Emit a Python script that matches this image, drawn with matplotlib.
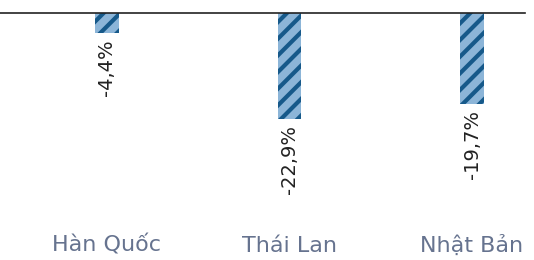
import numpy as np
import matplotlib
matplotlib.use("Agg")
import matplotlib.pyplot as plt

categories = ["Hàn Quốc", "Thái Lan", "Nhật Bản"]
values = [-4.4, -22.9, -19.7]
labels = ["-4,4%", "-22,9%", "-19,7%"]

plt.rcParams['font.family'] = ['DejaVu Sans']
plt.rcParams['hatch.linewidth'] = 3.0
plt.rcParams['hatch.color'] = '#16598a'

fig = plt.figure(figsize=(5.34, 2.6), dpi=100)
ax = fig.add_axes([0, 40 / 260, 525 / 534, 207 / 260])

x = np.arange(len(categories))
ax.bar(x, values, width=0.127, color='#8cb5d8', edgecolor='#16598a',
       linewidth=0, hatch='//')

ax.axhline(0, color='#222222', linewidth=1.2, clip_on=False)

for xi, v, lab in zip(x, values, labels):
    ax.annotate(lab, (xi, v), xytext=(0, -4), textcoords='offset points',
                rotation=90, ha='center', va='top', fontsize=14,
                color='#222222')

ax.set_xlim(-0.586, 2.29)
ax.set_ylim(-44.7, 0)
ax.set_xticks(x)
ax.set_xticklabels(categories, fontsize=16, color='#66738f')
for t in ax.get_xticklabels():
    t.set_verticalalignment('baseline')
ax.tick_params(axis='x', length=0, pad=23)
ax.set_yticks([])
for s in ax.spines.values():
    s.set_visible(False)

fig.savefig("out.png", dpi=100)
